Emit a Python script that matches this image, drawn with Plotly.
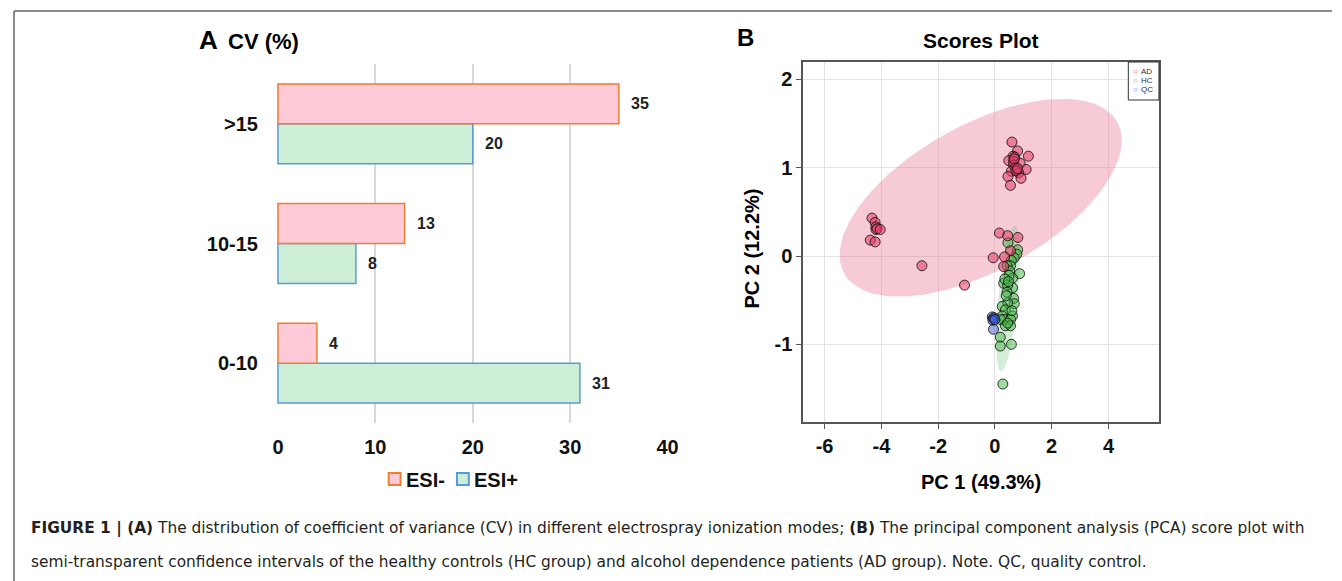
import numpy as np
import plotly.graph_objects as go

# page is rendered with an 8px body margin; figure is sized to fill the rest
OFF = 8
W, H = 1342 - OFF, 581 - OFF

# ---------------- Panel A data ----------------
cv_categories = ["0-10", "10-15", ">15"]
esi_neg = [4, 13, 35]
esi_pos = [31, 8, 20]
cv_ticks = [0, 10, 20, 30, 40]
series_names = ["ESI-", "ESI+"]

# ---------------- Panel B data ----------------
ad_x = [0.60, 0.80, 1.18, 0.64, 0.70, 0.49, 0.66, 0.89, 0.66, 0.72, 1.10, 0.58, 0.78, 0.84, 0.74,
        0.46, 0.92, 0.55, 0.68, 0.80,
        -4.33, -4.22, -4.19, -4.19, -4.15, -4.04, -4.39, -4.22,
        -2.57, -1.07,
        0.16, 0.45, 0.81, 0.55, -0.06, 0.34, 0.31]
ad_y = [1.29, 1.19, 1.13, 1.13, 1.12, 1.08, 1.07, 1.05, 1.03, 1.00, 0.98, 0.96, 0.96, 0.94, 0.97,
        0.90, 0.88, 0.80, 1.10, 0.99,
        0.43, 0.38, 0.33, 0.30, 0.31, 0.30, 0.18, 0.16,
        -0.11, -0.33,
        0.26, 0.23, 0.21, 0.06, -0.02, -0.01, -0.12]
hc_x = [0.46, 0.80, 0.77, 0.68, 0.58, 0.55, 0.43, 0.87, 0.52, 0.62, 0.31, 0.62, 0.45, 0.43, 0.66,
        0.68, 0.45, 0.26, 0.37, 0.26, 0.62, 0.31, 0.55, 0.20, 0.37, 0.55, 0.45, 0.50, 0.35, 0.48,
        0.19, 0.19, 0.58, 0.28, 0.40, 0.60]
hc_y = [0.15, 0.07, 0.02, -0.02, -0.05, -0.11, -0.11, -0.20, -0.17, -0.25, -0.31, -0.36, -0.33,
        -0.41, -0.48, -0.54, -0.53, -0.57, -0.61, -0.68, -0.68, -0.72, -0.72, -0.72, -0.79, -0.79,
        -0.76, -0.22, -0.26, -0.29, -0.92, -1.02, -1.00, -1.45, -0.45, -0.62]
qc_x = [-0.09, -0.06, -0.03, -0.07, 0.00, -0.05]
qc_y = [-0.69, -0.71, -0.70, -0.73, -0.72, -0.83]
pc1_ticks = [-6, -4, -2, 0, 2, 4]
pc1_ticktext = ["-6", "-4", "-2", "0", "2", "4"]
pc2_ticks = [-1, 0, 1, 2]
pc2_ticktext = ["-1", "0", "1", "2"]
# confidence ellipses: centre, half extents, correlation
ad_ellipse = dict(cx=-0.50, cy=0.66, sx=4.97, sy=1.12, rho=0.58)
hc_ellipse = dict(cx=0.46, cy=-0.48, sx=0.42, sy=0.83, rho=0.58)
groups = ["AD", "HC", "QC"]

FONT = "Arial, Liberation Sans, Helvetica, sans-serif"
NEG_FILL, NEG_LINE = "#FFCAD8", "#ED7D31"
POS_FILL, POS_LINE = "#CDEFD7", "#5B9BD5"


def px(x):
    return (x - OFF) / W


def py(y):
    return 1 - (y - OFF) / H


def ellipse(e, n=200):
    t = np.linspace(0, 2 * np.pi, n)
    x = e["cx"] + e["sx"] * np.cos(t)
    y = e["cy"] + e["sy"] * (e["rho"] * np.cos(t) + np.sqrt(1 - e["rho"] ** 2) * np.sin(t))
    return x, y


fig = go.Figure()

# ---- Panel A bars ----
fig.add_trace(go.Bar(y=cv_categories, x=esi_pos, orientation="h", name=series_names[1],
                     marker=dict(color=POS_FILL, line=dict(color=POS_LINE, width=1.5)),
                     xaxis="x", yaxis="y", showlegend=False))
fig.add_trace(go.Bar(y=cv_categories, x=esi_neg, orientation="h", name=series_names[0],
                     marker=dict(color=NEG_FILL, line=dict(color=NEG_LINE, width=1.5)),
                     xaxis="x", yaxis="y", showlegend=False))

# ---- Panel B ellipses ----
ex, ey = ellipse(ad_ellipse)
fig.add_trace(go.Scatter(x=ex, y=ey, mode="lines", fill="toself", line=dict(width=0),
                         fillcolor="rgba(232,110,140,0.36)", hoverinfo="skip",
                         showlegend=False, xaxis="x2", yaxis="y2"))
ex, ey = ellipse(hc_ellipse)
fig.add_trace(go.Scatter(x=ex, y=ey, mode="lines", fill="toself", line=dict(width=0),
                         fillcolor="rgba(120,200,130,0.32)", hoverinfo="skip",
                         showlegend=False, xaxis="x2", yaxis="y2"))

mk_line = dict(color="rgba(20,20,20,0.85)", width=1)
fig.add_trace(go.Scatter(x=hc_x, y=hc_y, mode="markers", name="HC", showlegend=False,
                         marker=dict(size=10, color="rgba(70,185,70,0.5)", line=mk_line),
                         xaxis="x2", yaxis="y2"))
fig.add_trace(go.Scatter(x=ad_x, y=ad_y, mode="markers", name="AD", showlegend=False,
                         marker=dict(size=10, color="rgba(228,60,100,0.55)", line=mk_line),
                         xaxis="x2", yaxis="y2"))
fig.add_trace(go.Scatter(x=qc_x, y=qc_y, mode="markers", name="QC", showlegend=False,
                         marker=dict(size=10, color="rgba(60,90,210,0.5)", line=mk_line),
                         xaxis="x2", yaxis="y2"))

annotations = []
# bar value labels
for i, v in enumerate(esi_neg):
    annotations.append(dict(x=v, y=i + 1 / 6, xref="x", yref="y", text=f"<b>{v}</b>",
                            showarrow=False, xanchor="left", xshift=10,
                            font=dict(family=FONT, size=16, color="#222")))
for i, v in enumerate(esi_pos):
    annotations.append(dict(x=v, y=i - 1 / 6, xref="x", yref="y", text=f"<b>{v}</b>",
                            showarrow=False, xanchor="left", xshift=10,
                            font=dict(family=FONT, size=16, color="#222")))


def txt(x, y, s, size, xanchor="left", angle=0, color="#000", family=FONT):
    annotations.append(dict(x=px(x), y=py(y), xref="paper", yref="paper", text=s,
                            showarrow=False, xanchor=xanchor, yanchor="middle",
                            textangle=angle, font=dict(family=family, size=size, color=color)))


txt(194, 40, "<b>A</b>", 26)
txt(223, 42, "<b>CV (%)</b>", 22)
txt(738, 38, "<b>B</b>", 24)
txt(987, 40, "<b>Scores Plot</b>", 21, "center")
txt(987, 482, "<b>PC 1 (49.3%)</b>", 20, "center")
txt(755, 249, "<b>PC 2 (12.2%)</b>", 20, "center", angle=-90)

shapes = [
    dict(type="line", xref="paper", yref="paper", x0=px(9), x1=1, y0=py(11), y1=py(11),
         line=dict(color="#8A8A8A", width=2)),
    dict(type="line", xref="paper", yref="paper", x0=px(9), x1=px(9), y0=py(11), y1=0,
         line=dict(color="#8A8A8A", width=2)),
    dict(type="rect", xref="paper", yref="paper", x0=px(1136), x1=px(1167), y0=py(100), y1=py(62),
         line=dict(color="#333", width=1), fillcolor="white"),
]

# legend for panel A (swatch + label)
for (sx, tx), name, fill, line in zip([(388, 403), (457, 472)], series_names,
                                      [NEG_FILL, POS_FILL], [NEG_LINE, POS_LINE]):
    shapes.append(dict(type="rect", xref="paper", yref="paper", x0=px(sx), x1=px(sx + 12),
                       y0=py(485), y1=py(473), fillcolor=fill, line=dict(color=line, width=2)))
    txt(tx, 480, f"<b>{name}</b>", 20, color="#111")

# legend for panel B
leg_colors = ["#E0406A", "#4CB04C", "#4A6AD8"]
for k, g in enumerate(groups):
    txt(1139, 71 + k * 9.5, "○", 8, color=leg_colors[k])
    txt(1147, 71 + k * 9.5, g, 8, color="#333")

# caption
cap1 = ("<b>FIGURE 1 | (A)</b> The distribution of coefficient of variance (CV) in different "
        "electrospray ionization modes; <b>(B)</b> The principal component analysis (PCA) score plot with")
cap2 = ("semi-transparent confidence intervals of the healthy controls (HC group) and alcohol "
        "dependence patients (AD group). Note. QC, quality control.")
CAPFONT = "DejaVu Sans, Arial, sans-serif"
txt(24, 528, cap1, 15.4, color="#231F20", family=CAPFONT)
txt(24, 562, cap2, 15.4, color="#231F20", family=CAPFONT)

tickfont = dict(family=FONT, size=20, color="#111", weight="bold")

fig.update_layout(
    width=W, height=H,
    margin=dict(l=0, r=0, t=0, b=0),
    paper_bgcolor="white", plot_bgcolor="white",
    showlegend=False,
    barmode="group", bargap=1 / 3, bargroupgap=0,
    xaxis=dict(domain=[px(275), px(671)], range=[-0.1, 40.1], tickvals=cv_ticks,
               showgrid=True, gridcolor="#D9D9D9", gridwidth=1.5, zeroline=False,
               showline=False, ticks="", ticklabelstandoff=10, tickfont=tickfont,
               anchor="y", fixedrange=True),
    yaxis=dict(domain=[py(423), py(64)], range=[-0.5, 2.5], type="category",
               categoryorder="array", categoryarray=cv_categories, showgrid=False,
               zeroline=False, showline=False, ticks="", ticklabelstandoff=18,
               tickfont=tickfont, anchor="x"),
    xaxis2=dict(domain=[px(807), px(1167)], range=[-6.76, 5.78], tickvals=pc1_ticks,
                ticktext=pc1_ticktext, showgrid=True, gridcolor="#E4E4E4", gridwidth=1,
                zeroline=False, showline=True, mirror=True, linecolor="#555", linewidth=1.5,
                ticks="outside", ticklen=5, tickcolor="#555", tickfont=tickfont, anchor="y2"),
    yaxis2=dict(domain=[py(422), py(62)], range=[-1.88, 2.197], tickvals=pc2_ticks,
                ticktext=pc2_ticktext, showgrid=True, gridcolor="#E4E4E4", gridwidth=1,
                zeroline=False, showline=True, mirror=True, linecolor="#555", linewidth=1.5,
                ticks="outside", ticklen=5, tickcolor="#555", tickfont=tickfont, anchor="x2"),
    annotations=annotations,
    shapes=shapes,
)

fig.write_html("out.html")
